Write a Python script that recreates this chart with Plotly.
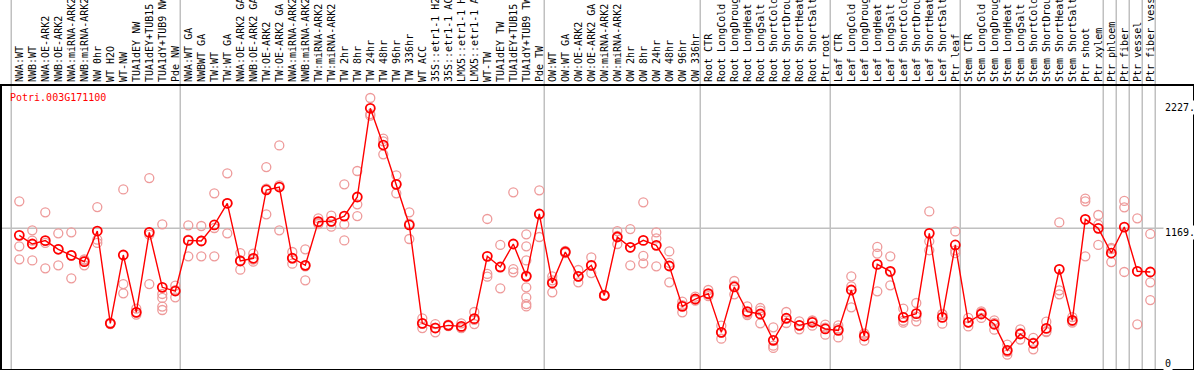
import plotly.graph_objects as go

gene = "Potri.003G171100"

labels = [
    "NWA:WT", "NWB:WT", "NWA:OE-ARK2", "NWB:OE-ARK2", "NWA:miRNA-ARK2", "NWB:miRNA-ARK2",
    "NW 0hr", "WT H2O", "WT-NW", "TUA1dEY NW", "TUA1dEY+TUB15 NW", "TUA1dY+TUB9 NW", "Pde NW",
    "NWA:WT GA", "NWBWT GA", "TW:WT", "TW:WT GA", "NWA:OE-ARK2 GA", "NWB:OE-ARK2 GA",
    "TW:OE-ARK2", "TW:OE-ARK2 GA", "NWA:miRNA-ARK2", "NWB:miRNA-ARK2", "TW:miRNA-ARK2",
    "TW:miRNA-ARK2 GA", "TW 2hr", "TW 8hr", "TW 24hr", "TW 48hr", "TW 96hr", "TW 336hr",
    "WT ACC", "35S::etr1-1 H2O", "35S::etr1-1 ACC", "LMX5::etr1-1 H2O", "LMX5::etr1-1 ACC",
    "WT-TW", "TUA1dEY TW", "TUA1dEY+TUB15 TW", "TUA1dY+TUB9 TW", "Pde TW",
    "OW:WT", "OW:WT GA", "OW:OE-ARK2", "OW:OE-ARK2 GA", "OW:miRNA-ARK2", "OW:miRNA-ARK2 GA",
    "OW 2hr", "OW 8hr", "OW 24hr", "OW 48hr", "OW 96hr", "OW 336hr",
    "Root CTR", "Root LongCold", "Root LongDrought", "Root LongHeat", "Root LongSalt",
    "Root ShortCold", "Root ShortDrought", "Root ShortHeat", "Root ShortSalt", "Ptr root",
    "Leaf CTR", "Leaf LongCold", "Leaf LongDrought", "Leaf LongHeat", "Leaf LongSalt",
    "Leaf ShortCold", "Leaf ShortDrought", "Leaf ShortHeat", "Leaf ShortSalt", "Ptr leaf",
    "Stem CTR", "Stem LongCold", "Stem LongDrought", "Stem LongHeat", "Stem LongSalt",
    "Stem ShortCold", "Stem ShortDrought", "Stem ShortHeat", "Stem ShortSalt", "Ptr shoot",
    "Ptr xylem", "Ptr phloem", "Ptr fiber", "Ptr vessel", "Ptr fiber vessel",
]

means = [
    1108, 1034, 1063, 989, 937, 883, 1145, 356, 940, 450, 1134, 664, 632,
    1065, 1060, 1197, 1382, 889, 912, 1496, 1521, 914, 852, 1225, 1228,
    1273, 1436, 2194, 1880, 1544, 1197, 356, 316, 339, 330, 396, 929, 838,
    1034, 758, 1291, 701, 966, 758, 852, 595, 1094, 1006, 1065, 1023, 846,
    501, 564, 610, 279, 667, 456, 436, 211, 400, 339, 365, 308, 296, 641,
    248, 860, 801, 407, 439, 1125, 407, 1026, 365, 436, 348, 125, 265, 185,
    313, 818, 382, 1245, 1168, 957, 1179, 801, 795,
]

replicates = [
    [1399, 1014, 903], [1151, 1063, 894], [1305, 1043, 826], [1125, 990, 852],
    [1134, 936, 741], [903, 894, 852], [1350, 1071, 1043], [362, 356, 350],
    [1501, 692, 613], [481, 450, 430], [1598, 1114, 692], [1202, 607, 573, 499, 470],
    [678, 640, 578], [1194, 1072, 929], [1188, 1063, 929], [1467, 1171, 929],
    [1638, 1383, 1125], [957, 895, 815], [952, 901, 883], [1692, 1508, 1288],
    [1877, 1535, 1151], [966, 910, 866], [989, 843, 724], [1254, 1216, 1205],
    [1276, 1226, 1182], [1544, 1202, 1065], [1658, 1373, 1273], [2282, 2145, 2131],
    [1934, 1912, 1801], [1621, 1544, 1467], [1305, 1209, 1077], [399, 353, 316],
    [350, 319, 279], [345, 339, 333], [356, 318, 316], [453, 385, 350],
    [1248, 778, 755], [1026, 833, 655], [1476, 820, 792],
    [1117, 1014, 894, 764, 664, 578, 521, 501],
    [1493, 1286, 1094], [758, 724, 621], [975, 966, 957], [812, 755, 707],
    [920, 850, 786], [600, 595, 590], [1145, 1103, 1034], [1162, 1004, 852],
    [1390, 932, 869], [1134, 1083, 843], [971, 872, 707], [541, 512, 450],
    [584, 558, 550], [641, 601, 588], [336, 276, 225], [718, 679, 604],
    [501, 440, 427], [487, 465, 356], [322, 165, 146], [453, 394, 359],
    [373, 339, 305], [382, 377, 336], [345, 320, 259], [339, 313, 236],
    [758, 672, 493], [268, 268, 208], [1009, 952, 630], [929, 793, 681],
    [481, 378, 362], [530, 414, 373], [1313, 1057, 980], [436, 432, 353],
    [1142, 979, 957], [402, 363, 330], [459, 447, 402], [382, 360, 302],
    [174, 113, 88], [305, 273, 217], [231, 190, 134], [370, 287, 282],
    [1219, 638, 604], [410, 374, 362], [1422, 1399, 929], [1282, 1199, 1026],
    [1000, 991, 880], [1402, 1348, 795], [1254, 801, 348], [1120, 707, 555],
]

# groups end after these category indices (separator lines)
group_ends = [-1, 12, 40, 52, 62, 72, 83, 84, 85, 86, 87]
scale_ticks = [2227, 1169, 0]
scale_text = ["2227.", "1169.", "0"]

W, H = 1194, 370
ML, MR, MT, MB = 2, 1, 86, 1
plot_w = W - ML - MR
plot_h = H - MT - MB
XR = [-1.331, -1.331 + plot_w / 13.0]
YR = [-34.2, -34.2 + plot_h / 0.117]

font = "DejaVu Sans Mono"
idx = list(range(len(labels)))

rx, ry = [], []
for i, reps in enumerate(replicates):
    for v in reps:
        rx.append(i)
        ry.append(v)

fig = go.Figure()
fig.add_trace(go.Scatter(
    x=rx, y=ry, mode="markers",
    marker=dict(symbol="circle-open", size=9, color="#ee9a9a", line=dict(width=1.3)),
    hoverinfo="skip", showlegend=False,
))
fig.add_trace(go.Scatter(
    x=idx, y=means, mode="lines+markers",
    line=dict(color="#ff0000", width=1.4),
    marker=dict(symbol="circle-open", size=9, color="#ff0000", line=dict(width=1.8)),
    showlegend=False,
))

def xpaper(v):
    return (v - XR[0]) / (XR[1] - XR[0])

top_paper = 1 + MT / plot_h
shapes = []
for g in group_ends:
    xp = xpaper(g + 0.38)
    shapes.append(dict(type="line", xref="paper", yref="paper", x0=xp, x1=xp, y0=0, y1=top_paper,
                       line=dict(color="#c0c0c0", width=1.5), layer="below"))
shapes.append(dict(type="line", xref="paper", yref="y", x0=0, x1=1, y0=scale_ticks[1], y1=scale_ticks[1],
                   line=dict(color="#c0c0c0", width=1.5), layer="below"))

annotations = [dict(text=gene, xref="paper", yref="paper", x=(8 - ML) / plot_w, y=(H - MB - 97) / plot_h,
                    xanchor="left", yanchor="middle", showarrow=False,
                    font=dict(family=font, size=10, color="#ff0000"))]
for v, t, shift in zip(scale_ticks, scale_text, [-3, -4, 2]):
    annotations.append(dict(text=t, xref="paper", yref="y", x=(1163 - ML) / plot_w, y=v, yshift=shift,
                            xanchor="left", yanchor="middle", showarrow=False, bgcolor="white",
                            font=dict(family=font, size=10, color="#000000")))

fig.update_layout(
    width=W, height=H, template="none",
    margin=dict(l=ML, r=MR, t=MT, b=MB, pad=0),
    paper_bgcolor="white", plot_bgcolor="white",
    shapes=shapes, annotations=annotations,
    xaxis=dict(range=XR, side="top", tickmode="array", tickvals=idx, ticktext=labels,
               tickangle=-90, ticks="", showgrid=False, zeroline=False, automargin=False,
               showline=True, linecolor="black", linewidth=2, mirror=True,
               tickfont=dict(family=font, size=10, color="black")),
    yaxis=dict(range=YR, showticklabels=False, ticks="", showgrid=False, zeroline=False,
               automargin=False, showline=True, linecolor="black", linewidth=2, mirror=True),
)
fig.write_html("out.html", config={"displayModeBar": False},
               post_script="document.body.style.margin='0';document.body.style.overflow='hidden';")
